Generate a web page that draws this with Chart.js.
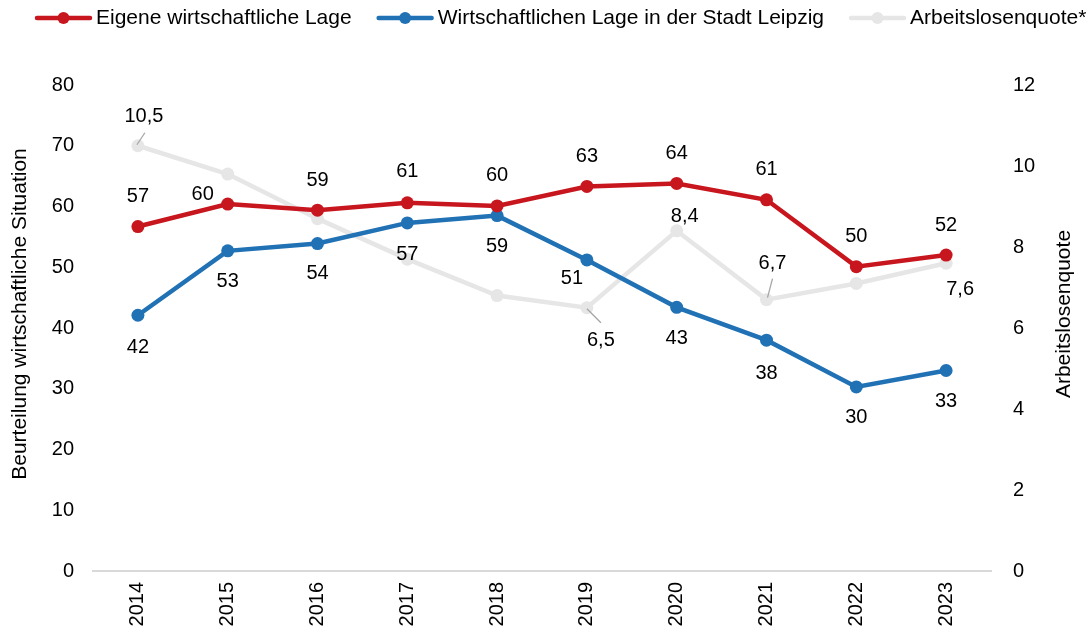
<!DOCTYPE html>
<html>
<head>
<meta charset="utf-8">
<script src="https://cdn.jsdelivr.net/npm/chart.js@4"></script>
<style>
html,body{margin:0;padding:0;background:#fff;}
#wrap{width:1091px;height:635px;position:relative;}
</style>
</head>
<body>
<div id="wrap"><canvas id="c" width="1091" height="635"></canvas></div>
<script>
// ---- data ----
const years = ["2014","2015","2016","2017","2018","2019","2020","2021","2022","2023"];
const eigeneLage = [56.7, 60.4, 59.4, 60.6, 60.1, 63.3, 63.8, 61.1, 50.1, 52.0];
const stadtLage = [42.1, 52.7, 53.9, 57.3, 58.5, 51.2, 43.4, 38.0, 30.3, 33.0];
const arbeitslosenquote = [10.5, 9.8, 8.7, 7.7, 6.8, 6.5, 8.4, 6.7, 7.1, 7.6];
const leftTicks = [0, 10, 20, 30, 40, 50, 60, 70, 80];
const rightTicks = [0, 2, 4, 6, 8, 10, 12];
const quoteLabelIdx = [0, 5, 6, 7, 9];
const seriesNames = ['Eigene wirtschaftliche Lage', 'Wirtschaftlichen Lage in der Stadt Leipzig', 'Arbeitslosenquote*'];
const leftTitle = 'Beurteilung wirtschaftliche Situation';
const rightTitle = 'Arbeitslosenquote';

const RED = '#C8161E', BLUE = '#2171B5', GREY = '#E6E6E6';
const FONT = '"Liberation Sans", Arial, sans-serif';

// label offsets per dataset: [dx, dy] relative to point
const labelOffsets = [
  [[0,-30],[-25,-10],[0,-30],[0,-31],[0,-30],[0,-30],[0,-30],[0,-30],[0,-30],[0,-30]],
  [[0,32],[0,31],[0,30],[0,32],[0,31],[-15,19],[0,31],[0,33],[0,31],[0,31]],
  [[6,-29],null,null,null,null,[14,33],[8,-14],[6,-36],null,[14,26]]
];
const leaders = {2:{0:[[-1,-1],[7,-13]],5:[[0,1],[14,15]],7:[[1,-2],[6,-21]]}};

const dataLabelPlugin = {
  id:'dl',
  afterDatasetsDraw(chart){
    const ctx = chart.ctx;
    ctx.save();
    ctx.font = '20px ' + FONT;
    ctx.fillStyle = '#000';
    ctx.textAlign = 'center';
    ctx.textBaseline = 'middle';
    chart.data.datasets.forEach((ds, di) => {
      const meta = chart.getDatasetMeta(di);
      meta.data.forEach((pt, i) => {
        const off = labelOffsets[di][i];
        if (!off) return;
        if (di === 2 && quoteLabelIdx.indexOf(i) < 0) return;
        const v = ds.data[i];
        const txt = di === 2 ? v.toFixed(1).replace('.', ',') : String(Math.round(v));
        const ld = leaders[di] && leaders[di][i];
        if (ld){
          ctx.strokeStyle = '#A6A6A6'; ctx.lineWidth = 1.3;
          ctx.beginPath();
          ctx.moveTo(pt.x + ld[0][0], pt.y + ld[0][1]);
          ctx.lineTo(pt.x + ld[1][0], pt.y + ld[1][1]);
          ctx.stroke();
        }
        ctx.fillText(txt, pt.x + off[0], pt.y + off[1]);
      });
    });
    ctx.restore();
  }
};

const titlesPlugin = {
  id:'axisTitles',
  afterDraw(chart){
    const ctx = chart.ctx;
    const ca = chart.chartArea;
    const cy = (ca.top + ca.bottom) / 2 - 14;
    ctx.save();
    ctx.font = '21px ' + FONT;
    ctx.fillStyle = '#000';
    ctx.textAlign = 'center';
    ctx.textBaseline = 'middle';
    [[chart.scales.y.left + 13, leftTitle], [chart.scales.y1.right - 13, rightTitle]].forEach(([x, t]) => {
      ctx.save();
      ctx.translate(x, cy);
      ctx.rotate(-Math.PI / 2);
      ctx.fillText(t, 0, 0);
      ctx.restore();
    });
    ctx.restore();
  }
};

const legendPlugin = {
  id:'customLegend',
  afterDraw(chart){
    const ctx = chart.ctx;
    ctx.save();
    ctx.font = '21px ' + FONT;
    ctx.textBaseline = 'middle';
    ctx.textAlign = 'left';
    let x = 35;
    const y = 18;
    chart.data.datasets.forEach((ds) => {
      const col = ds.borderColor;
      ctx.strokeStyle = col; ctx.lineWidth = 4.5; ctx.lineCap = 'round';
      ctx.beginPath(); ctx.moveTo(x + 2, y); ctx.lineTo(x + 55, y); ctx.stroke();
      ctx.fillStyle = col; ctx.beginPath(); ctx.arc(x + 28.5, y, 6, 0, Math.PI * 2); ctx.fill();
      ctx.fillStyle = '#000';
      const tx = x + 61;
      ctx.fillText(ds.label, tx, y);
      x = tx + ctx.measureText(ds.label).width + 25;
    });
    ctx.restore();
  }
};

const chart = new Chart(document.getElementById('c'), {
  type: 'line',
  data: {
    labels: years,
    datasets: [
      {label: seriesNames[0], data: eigeneLage, yAxisID:'y', borderColor: RED, backgroundColor: RED, borderWidth: 4.5, pointRadius: 6.5, pointHoverRadius: 6.5, pointBackgroundColor: RED, pointBorderWidth: 0, order: 1},
      {label: seriesNames[1], data: stadtLage, yAxisID:'y', borderColor: BLUE, backgroundColor: BLUE, borderWidth: 4.5, pointRadius: 6.5, pointHoverRadius: 6.5, pointBackgroundColor: BLUE, pointBorderWidth: 0, order: 2},
      {label: seriesNames[2], data: arbeitslosenquote, yAxisID:'y1', borderColor: GREY, backgroundColor: GREY, borderWidth: 4.5, pointRadius: 6.5, pointHoverRadius: 6.5, pointBackgroundColor: GREY, pointBorderWidth: 0, order: 3}
    ]
  },
  options: {
    responsive: false,
    animation: false,
    layout: {padding: {left: 7, right: 14, top: 85, bottom: 0}},
    plugins: {
      tooltip: {enabled: false},
      legend: {display: false}
    },
    scales: {
      x: {
        offset: true,
        grid: {display: false, drawTicks: false},
        border: {display: true, color: '#D9D9D9', width: 2},
        ticks: {color: '#000', font: {family: FONT, size: 20}, minRotation: 90, maxRotation: 90, padding: 11},
        afterFit(s){ s.height = 64; }
      },
      y: {
        position: 'left', min: 0, max: 80,
        afterBuildTicks(ax){ ax.ticks = leftTicks.map(v => ({value: v})); },
        grid: {display: false, drawTicks: false},
        border: {display: false},
        ticks: {color: '#000', font: {family: FONT, size: 20}, padding: 19},
        afterFit(s){ s.width = 86; }
      },
      y1: {
        position: 'right', min: 0, max: 12,
        afterBuildTicks(ax){ ax.ticks = rightTicks.map(v => ({value: v})); },
        grid: {display: false, drawTicks: false},
        border: {display: false},
        ticks: {color: '#000', font: {family: FONT, size: 20}, padding: 22},
        afterFit(s){ s.width = 86; }
      }
    }
  },
  plugins: [dataLabelPlugin, titlesPlugin, legendPlugin]
});
</script>
</body>
</html>
